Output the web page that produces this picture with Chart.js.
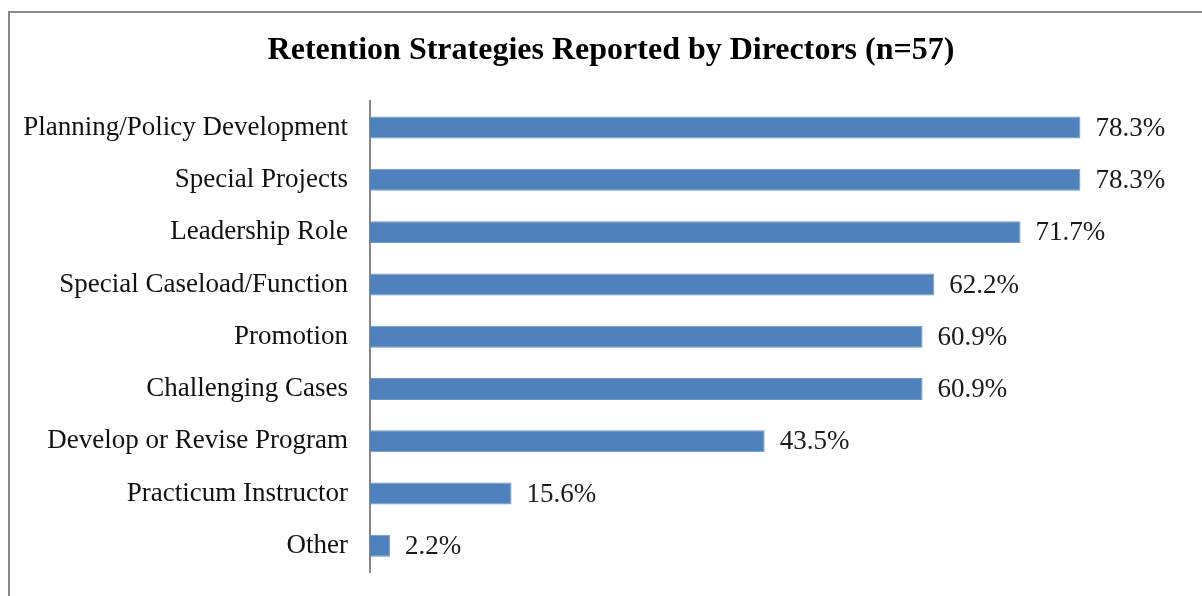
<!DOCTYPE html>
<html>
<head>
<meta charset="utf-8">
<script src="https://cdn.jsdelivr.net/npm/chart.js@4"></script>
<style>
	body { margin: 0; background: #fff; }
	#wrap { position: relative; width: 1202px; height: 596px; }
</style>
</head>
<body>
<div id="wrap"><canvas id="myChart" width="1202" height="596"></canvas></div>
<script>
let ctx = document.getElementById("myChart").getContext("2d")

// Strategy labels and percentages
let strategies = [
	"Planning/Policy Development",
	"Special Projects",
	"Leadership Role",
	"Special Caseload/Function",
	"Promotion",
	"Challenging Cases",
	"Develop or Revise Program",
	"Practicum Instructor",
	"Other",
]
let percents = [78.3, 78.3, 71.7, 62.2, 60.9, 60.9, 43.5, 15.6, 2.2]

let serif = "'Liberation Serif', 'Times New Roman', serif"

// Frame around the chart, like the original picture
let framePlugin = {
	id: "frame",
	beforeDraw(chart) {
		let c = chart.ctx
		c.save()
		c.fillStyle = "#fff"
		c.fillRect(0, 0, chart.width, chart.height)
		c.strokeStyle = "#8a8a8a"
		c.lineWidth = 2
		c.strokeRect(9, 12, 1400, 800)
		c.restore()
	}
}

// Value labels at the end of each bar
let valueLabels = {
	id: "valueLabels",
	afterDatasetsDraw(chart) {
		let c = chart.ctx
		let meta = chart.getDatasetMeta(0)
		c.save()
		c.font = "27px " + serif
		c.fillStyle = "#1a1a1a"
		c.textBaseline = "middle"
		meta.data.forEach(function (bar, i) {
			c.fillText(percents[i].toFixed(1) + "%", bar.x + 15, bar.y + 1)
		})
		c.restore()
	}
}

let config = {
	type: "bar",
	data: {
		labels: strategies,
		datasets: [{
			data: percents,
			backgroundColor: "#4f81bd",
			borderColor: "#6f97c8",
			borderWidth: 1,
			categoryPercentage: 1,
			barPercentage: 0.42,
		}]
	},
	options: {
		indexAxis: "y",
		responsive: false,
		animation: false,
		layout: {
			padding: {left: 20, right: 0, top: 0, bottom: 24}
		},
		plugins: {
			legend: {display: false},
			tooltip: {enabled: false},
			title: {
				display: true,
				text: "Retention Strategies Reported by Directors (n=57)",
				color: "#000",
				font: {size: 32, family: serif, weight: "bold"},
				padding: {top: 32, bottom: 31}
			}
		},
		scales: {
			x: {
				display: false,
				min: 0,
				max: 91.7,
			},
			y: {
				afterFit(scale) {
					scale.width = 350
					scale.paddingTop = 0
					scale.paddingBottom = 0
				},
				grid: {display: false, drawTicks: false},
				border: {display: true, color: "#868686", width: 2},
				ticks: {
					color: "#111",
					padding: 22,
					font: {size: 27, family: serif}
				}
			}
		}
	},
	plugins: [framePlugin, valueLabels]
}

new Chart(ctx, config)
</script>
</body>
</html>
